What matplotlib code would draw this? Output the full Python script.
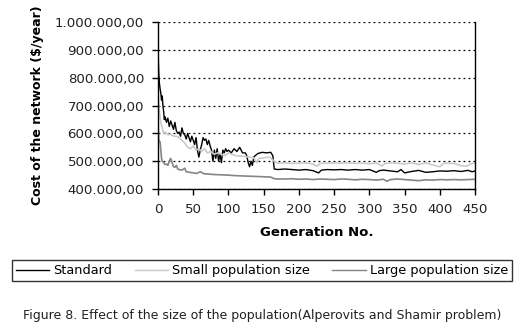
import matplotlib
matplotlib.use("Agg")
import matplotlib.pyplot as plt
from matplotlib.ticker import FuncFormatter

# ---- data ----
std_gen = [0, 1, 2, 3, 4, 5, 6, 7, 8, 9, 10, 12, 14, 16, 18, 20, 22, 24, 26, 28, 30,
           32, 34, 36, 38, 40, 42, 44, 46, 48, 50, 52, 54, 56, 58, 60, 62, 64, 66, 68,
           70, 72, 74, 76, 78, 80, 82, 84, 86, 88, 90, 92, 94, 96, 98, 100, 104, 108,
           112, 116, 120, 124, 126, 128, 130, 132, 134, 136, 138, 142, 148, 154, 160,
           163, 165, 170, 180, 190, 200, 210, 220, 228, 232, 240, 250, 260, 270, 280,
           290, 300, 310, 314, 320, 330, 340, 345, 350, 360, 370, 380, 390, 400, 410,
           420, 430, 440, 446, 450]
std_cost = [905, 820, 780, 760, 745, 720, 735, 700, 680, 650, 660, 640, 655, 625, 645,
            630, 615, 640, 610, 600, 605, 590, 620, 600, 595, 580, 600, 585, 570, 590,
            575, 560, 585, 540, 515, 540, 560, 585, 575, 580, 560, 575, 555, 540, 500,
            540, 510, 545, 500, 525, 495, 540, 530, 545, 535, 540, 530, 545, 535, 550,
            530, 530, 520, 495, 480, 500, 485, 515, 520, 528, 532, 530, 532, 520, 472,
            470, 472, 470, 468, 470, 466, 458, 468, 470, 469, 470, 468, 470, 468, 470,
            460, 466, 468, 465, 462, 470, 458, 463, 467, 460, 462, 465, 464, 466, 463,
            467, 462, 465]

small_gen = [0, 1, 2, 3, 4, 6, 8, 10, 14, 18, 22, 26, 30, 34, 38, 42, 46, 50, 54, 58,
             62, 66, 70, 75, 80, 85, 90, 95, 100, 110, 120, 130, 136, 140, 143, 150,
             158, 165, 170, 180, 190, 200, 210, 220, 226, 230, 240, 250, 260, 270, 280,
             290, 300, 310, 318, 322, 330, 340, 350, 360, 370, 380, 390, 400, 405, 410,
             420, 430, 438, 445, 450]
small_cost = [740, 700, 680, 660, 640, 620, 600, 605, 595, 598, 590, 590, 585, 575, 565,
              550, 545, 555, 540, 545, 535, 545, 530, 535, 525, 530, 525, 520, 530, 520,
              518, 515, 512, 495, 510, 512, 515, 500, 493, 494, 492, 493, 494, 490, 482,
              492, 493, 494, 493, 494, 492, 493, 491, 494, 483, 492, 494, 493, 490, 494,
              488, 494, 487, 480, 492, 493, 492, 484, 482, 492, 493]

large_gen = [0, 1, 2, 3, 4, 5, 6, 8, 10, 12, 14, 16, 18, 20, 22, 24, 26, 28, 30, 34,
             38, 40, 45, 50, 55, 60, 65, 70, 80, 90, 100, 110, 120, 130, 140, 150, 160,
             165, 170, 180, 190, 200, 210, 220, 230, 240, 250, 260, 270, 280, 290, 300,
             310, 320, 325, 330, 340, 350, 360, 370, 380, 390, 400, 410, 420, 430, 440,
             450]
large_cost = [640, 575, 572, 570, 540, 510, 500, 495, 488, 490, 485, 500, 510, 495, 480,
              478, 485, 472, 470, 468, 475, 462, 460, 458, 456, 462, 455, 454, 452, 451,
              450, 448, 447, 446, 445, 444, 443, 437, 436, 436, 437, 435, 436, 434, 436,
              435, 434, 436, 435, 433, 435, 434, 432, 435, 428, 434, 436, 434, 432, 430,
              433, 432, 434, 433, 434, 433, 434, 435]

series_labels = ["Standard", "Small population size", "Large population size"]
x_ticks = [0, 50, 100, 150, 200, 250, 300, 350, 400, 450]
y_ticks = [400000, 500000, 600000, 700000, 800000, 900000, 1000000]

fig = plt.figure(figsize=(5.24, 3.34), dpi=100)
ax = fig.add_axes([158 / 524, 1 - 189 / 334, (475 - 158) / 524, (189 - 22.3) / 334])

ax.plot(std_gen, [v * 1000 for v in std_cost], color="black", lw=1.0, label=series_labels[0])
ax.plot(small_gen, [v * 1000 for v in small_cost], color="#cacaca", lw=1.2, label=series_labels[1])
ax.plot(large_gen, [v * 1000 for v in large_cost], color="#858585", lw=1.2, label=series_labels[2])

ax.set_xlim(0, 450)
ax.set_ylim(400000, 1000000)
ax.set_xticks(x_ticks)
ax.set_yticks(y_ticks)


def fmt(v, pos):
    s = f"{int(round(v)):,}".replace(",", ".")
    return s + ",00"


ax.yaxis.set_major_formatter(FuncFormatter(fmt))
ax.grid(axis="y", color="black", linestyle=(0, (1.5, 2.5)), lw=0.9)
ax.spines["top"].set_visible(False)
for s in ["left", "bottom", "right"]:
    ax.spines[s].set_linewidth(1.0)
ax.tick_params(axis="both", direction="out", length=4, width=1, labelsize=9.6, colors="black")
ax.tick_params(axis="y", pad=6)
ax.tick_params(axis="x", pad=6)
for t in ax.get_yticklabels() + ax.get_xticklabels():
    t.set_color("#222222")

ax.set_xlabel("Generation No.", fontsize=9.5, fontweight="bold", labelpad=7)
ax.set_ylabel("Cost of the network ($/year)", fontsize=9, fontweight="bold", labelpad=8)

leg = fig.legend(loc="lower left", bbox_to_anchor=(12 / 524, 1 - 281 / 334, 500 / 524, 23 / 334),
                 mode="expand", ncol=3,
                 frameon=True, fancybox=False, edgecolor="black", fontsize=9.3,
                 handlelength=2.6, borderpad=0.3, handletextpad=0.3, borderaxespad=0)
leg.get_frame().set_linewidth(1.0)
for line in leg.get_lines():
    line.set_linewidth(1.0)

fig.text(262 / 524, 1 - 316 / 334,
         "Figure 8. Effect of the size of the population(Alperovits and Shamir problem)",
         ha="center", va="center", fontsize=9.0, color="#222222")

fig.savefig("out.png", dpi=100)
